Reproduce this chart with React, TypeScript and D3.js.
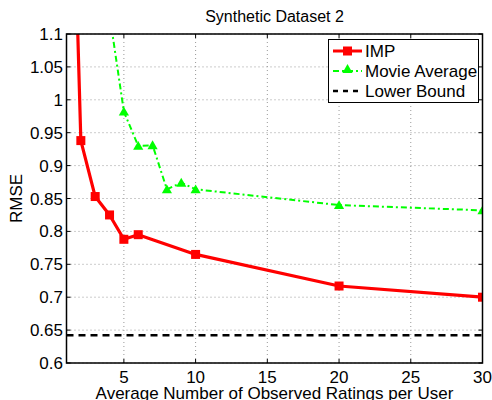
import React, { useEffect, useRef } from 'react';
import * as d3 from 'd3';

// data
const impX = [1, 2, 3, 4, 5, 6, 10, 20, 30];
const impY = [1.7, 0.938, 0.853, 0.825, 0.788, 0.795, 0.765, 0.717, 0.7];
const movieX = [4, 5, 6, 7, 8, 9, 10, 20, 30];
const movieY = [1.13, 0.982, 0.93, 0.931, 0.864, 0.874, 0.864, 0.84, 0.832];
const lowerBound = 0.642;
const xTicks = [5, 10, 15, 20, 25, 30];
const yTicks = [0.6, 0.65, 0.7, 0.75, 0.8, 0.85, 0.9, 0.95, 1, 1.05, 1.1];
const legendLabels = ['IMP', 'Movie Average', 'Lower Bound'];

const W = 492;
const H = 400;
const FONT = '"Liberation Sans", Arial, sans-serif';

const App = () => {
  const svgRef = useRef<SVGSVGElement>(null);

  useEffect(() => {
    if (!svgRef.current) return;
    const svg = d3.select(svgRef.current);
    svg.selectAll('*').remove();

    const left = 66.5, right = 482.5, top = 34, bottom = 363;
    const x = d3.scaleLinear().domain([1, 30]).range([left, right]);
    const y = d3.scaleLinear().domain([0.6, 1.1]).range([bottom, top]);

    svg.append('rect').attr('width', W).attr('height', H).attr('fill', '#fff');

    svg.append('defs').append('clipPath').attr('id', 'plotclip')
      .append('rect').attr('x', left).attr('y', top)
      .attr('width', right - left).attr('height', bottom - top);

    // grid
    const grid = svg.append('g').attr('stroke', '#999').attr('stroke-width', 1)
      .attr('stroke-dasharray', '1,3');
    xTicks.forEach(t => {
      grid.append('line').attr('x1', x(t)).attr('x2', x(t)).attr('y1', top).attr('y2', bottom);
    });
    yTicks.forEach(t => {
      grid.append('line').attr('x1', left).attr('x2', right).attr('y1', y(t)).attr('y2', y(t));
    });

    // ticks inside
    const tk = svg.append('g').attr('stroke', '#000').attr('stroke-width', 1);
    xTicks.forEach(t => {
      tk.append('line').attr('x1', x(t)).attr('x2', x(t)).attr('y1', bottom).attr('y2', bottom - 4);
      tk.append('line').attr('x1', x(t)).attr('x2', x(t)).attr('y1', top).attr('y2', top + 4);
    });
    yTicks.forEach(t => {
      tk.append('line').attr('x1', left).attr('x2', left + 4).attr('y1', y(t)).attr('y2', y(t));
      tk.append('line').attr('x1', right).attr('x2', right - 4).attr('y1', y(t)).attr('y2', y(t));
    });

    // tick labels
    xTicks.forEach(t => {
      svg.append('text').attr('x', x(t)).attr('y', bottom + 20)
        .attr('text-anchor', 'middle').attr('font-family', FONT).attr('font-size', 17)
        .text(String(t));
    });
    yTicks.forEach(t => {
      svg.append('text').attr('x', left - 3.5).attr('y', y(t) + 6)
        .attr('text-anchor', 'end').attr('font-family', FONT).attr('font-size', 17)
        .text(d3.format('')(t));
    });

    const plot = svg.append('g').attr('clip-path', 'url(#plotclip)');

    // lower bound
    plot.append('line').attr('x1', left).attr('x2', right)
      .attr('y1', y(lowerBound)).attr('y2', y(lowerBound))
      .attr('stroke', '#000').attr('stroke-width', 2.5).attr('stroke-dasharray', '7,5');

    // movie average
    const movie = movieX.map((v, i) => [v, movieY[i]] as [number, number]);
    const line = d3.line<[number, number]>().x(d => x(d[0])).y(d => y(d[1]));
    plot.append('path').attr('d', line(movie)).attr('fill', 'none')
      .attr('stroke', '#00ff00').attr('stroke-width', 2).attr('stroke-dasharray', '6,3,2,3');
    const tri = d3.symbol().type(d3.symbolTriangle).size(45);
    plot.selectAll('.tri').data(movie).enter().append('path')
      .attr('d', tri).attr('transform', d => `translate(${x(d[0])},${y(d[1]) + 1})`)
      .attr('fill', '#00ff00');

    // IMP
    const imp = impX.map((v, i) => [v, impY[i]] as [number, number]);
    plot.append('path').attr('d', line(imp)).attr('fill', 'none')
      .attr('stroke', '#ff0000').attr('stroke-width', 3.2).attr('stroke-linejoin', 'round');
    plot.selectAll('.sq').data(imp).enter().append('rect')
      .attr('x', d => x(d[0]) - 4.5).attr('y', d => y(d[1]) - 4.5)
      .attr('width', 9).attr('height', 9).attr('fill', '#ff0000');

    // frame
    svg.append('rect').attr('x', left).attr('y', top)
      .attr('width', right - left).attr('height', bottom - top)
      .attr('fill', 'none').attr('stroke', '#000').attr('stroke-width', 1.5);

    // legend
    const lg = svg.append('g');
    lg.append('rect').attr('x', 328.5).attr('y', 39.5).attr('width', 150).attr('height', 63)
      .attr('fill', '#fff').attr('stroke', '#000').attr('stroke-width', 1);
    const rows = [51, 71, 91];
    lg.append('line').attr('x1', 333).attr('x2', 362).attr('y1', rows[0]).attr('y2', rows[0])
      .attr('stroke', '#ff0000').attr('stroke-width', 3);
    lg.append('rect').attr('x', 343).attr('y', rows[0] - 4.5).attr('width', 9).attr('height', 9)
      .attr('fill', '#ff0000');
    lg.append('line').attr('x1', 333).attr('x2', 362).attr('y1', rows[1]).attr('y2', rows[1])
      .attr('stroke', '#00ff00').attr('stroke-width', 2).attr('stroke-dasharray', '6,3,2,3');
    lg.append('path').attr('d', tri).attr('transform', `translate(347.5,${rows[1] - 1})`)
      .attr('fill', '#00ff00');
    lg.append('line').attr('x1', 333).attr('x2', 362).attr('y1', rows[2]).attr('y2', rows[2])
      .attr('stroke', '#000').attr('stroke-width', 2.5).attr('stroke-dasharray', '5,5');
    legendLabels.forEach((l, i) => {
      lg.append('text').attr('x', 365).attr('y', rows[i] + 6)
        .attr('font-family', FONT).attr('font-size', 17).text(l);
    });

    // title and axis labels
    svg.append('text').attr('x', (left + right) / 2).attr('y', 22)
      .attr('text-anchor', 'middle').attr('font-family', FONT).attr('font-size', 16)
      .text('Synthetic Dataset 2');
    svg.append('text').attr('x', (left + right) / 2).attr('y', 399)
      .attr('text-anchor', 'middle').attr('font-family', FONT).attr('font-size', 17)
      .text('Average Number of Observed Ratings per User');
    svg.append('text').attr('transform', `translate(22,${(top + bottom) / 2}) rotate(-90)`)
      .attr('text-anchor', 'middle').attr('font-family', FONT).attr('font-size', 17)
      .text('RMSE');
  }, []);

  return (
    <svg ref={svgRef} width={W} height={H}
      style={{ position: 'absolute', left: 0, top: 0, display: 'block' }} />
  );
};

export default App;
